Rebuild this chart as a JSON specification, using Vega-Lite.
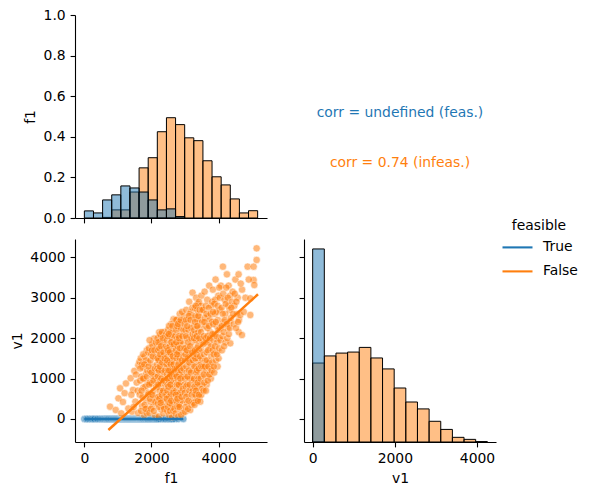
{
  "$schema": "https://vega.github.io/schema/vega-lite/v6.json",
  "padding": {"left": 10, "top": 8, "right": 5, "bottom": 5},
  "config": {
    "font": "DejaVu Sans",
    "view": {"stroke": null},
    "axis": {"grid": false, "domainColor": "black", "domainWidth": 1.1, "tickColor": "black", "tickWidth": 1.1, "tickSize": 4.9, "labelPadding": 4.9, "labelFontSize": 13.9, "labelColor": "black", "titleFontSize": 13.9, "titleFontWeight": "normal", "titleColor": "black", "titlePadding": 5.6, "labelFlush": false, "labelOverlap": false},
    "legend": {"titleFontSize": 13.9, "titleFontWeight": "normal", "titleColor": "black", "labelFontSize": 13.9, "labelColor": "black"}
  },
  "datasets": {
    "hist_f1": [
      {"bin_start": 543.6, "bin_end": 815.4, "feasible": "False", "height": 0.003},
      {"bin_start": 815.4, "bin_end": 1087.2, "feasible": "False", "height": 0.04},
      {"bin_start": 1087.2, "bin_end": 1359, "feasible": "False", "height": 0.04},
      {"bin_start": 1359, "bin_end": 1630.8, "feasible": "False", "height": 0.128},
      {"bin_start": 1630.8, "bin_end": 1902.6, "feasible": "False", "height": 0.247},
      {"bin_start": 1902.6, "bin_end": 2174.4, "feasible": "False", "height": 0.297},
      {"bin_start": 2174.4, "bin_end": 2446.2, "feasible": "False", "height": 0.425},
      {"bin_start": 2446.2, "bin_end": 2718, "feasible": "False", "height": 0.494},
      {"bin_start": 2718, "bin_end": 2989.8, "feasible": "False", "height": 0.46},
      {"bin_start": 2989.8, "bin_end": 3261.6, "feasible": "False", "height": 0.395},
      {"bin_start": 3261.6, "bin_end": 3533.4, "feasible": "False", "height": 0.381},
      {"bin_start": 3533.4, "bin_end": 3805.2, "feasible": "False", "height": 0.282},
      {"bin_start": 3805.2, "bin_end": 4077, "feasible": "False", "height": 0.203},
      {"bin_start": 4077, "bin_end": 4348.8, "feasible": "False", "height": 0.163},
      {"bin_start": 4348.8, "bin_end": 4620.6, "feasible": "False", "height": 0.094},
      {"bin_start": 4620.6, "bin_end": 4892.4, "feasible": "False", "height": 0.025},
      {"bin_start": 4892.4, "bin_end": 5164.2, "feasible": "False", "height": 0.036},
      {"bin_start": 0, "bin_end": 271.8, "feasible": "True", "height": 0.035},
      {"bin_start": 271.8, "bin_end": 543.6, "feasible": "True", "height": 0.025},
      {"bin_start": 543.6, "bin_end": 815.4, "feasible": "True", "height": 0.089},
      {"bin_start": 815.4, "bin_end": 1087.2, "feasible": "True", "height": 0.114},
      {"bin_start": 1087.2, "bin_end": 1359, "feasible": "True", "height": 0.158},
      {"bin_start": 1359, "bin_end": 1630.8, "feasible": "True", "height": 0.148},
      {"bin_start": 1630.8, "bin_end": 1902.6, "feasible": "True", "height": 0.128},
      {"bin_start": 1902.6, "bin_end": 2174.4, "feasible": "True", "height": 0.089},
      {"bin_start": 2174.4, "bin_end": 2446.2, "feasible": "True", "height": 0.04},
      {"bin_start": 2446.2, "bin_end": 2718, "feasible": "True", "height": 0.045},
      {"bin_start": 2718, "bin_end": 2989.8, "feasible": "True", "height": 0.007}
    ],
    "hist_v1": [
      {"bin_start": 0, "bin_end": 283.4, "feasible": "False", "height": 0.389},
      {"bin_start": 283.4, "bin_end": 566.8, "feasible": "False", "height": 0.424},
      {"bin_start": 566.8, "bin_end": 850.2, "feasible": "False", "height": 0.438},
      {"bin_start": 850.2, "bin_end": 1133.6, "feasible": "False", "height": 0.443},
      {"bin_start": 1133.6, "bin_end": 1417, "feasible": "False", "height": 0.466},
      {"bin_start": 1417, "bin_end": 1700.4, "feasible": "False", "height": 0.414},
      {"bin_start": 1700.4, "bin_end": 1983.8, "feasible": "False", "height": 0.36},
      {"bin_start": 1983.8, "bin_end": 2267.2, "feasible": "False", "height": 0.266},
      {"bin_start": 2267.2, "bin_end": 2550.6, "feasible": "False", "height": 0.197},
      {"bin_start": 2550.6, "bin_end": 2834, "feasible": "False", "height": 0.163},
      {"bin_start": 2834, "bin_end": 3117.4, "feasible": "False", "height": 0.102},
      {"bin_start": 3117.4, "bin_end": 3400.8, "feasible": "False", "height": 0.062},
      {"bin_start": 3400.8, "bin_end": 3684.2, "feasible": "False", "height": 0.023},
      {"bin_start": 3684.2, "bin_end": 3967.6, "feasible": "False", "height": 0.013},
      {"bin_start": 3967.6, "bin_end": 4251, "feasible": "False", "height": 0.002},
      {"bin_start": 0, "bin_end": 283.4, "feasible": "True", "height": 0.951}
    ],
    "annot": [
      {"label": "corr = undefined (feas.)", "feasible": "True", "x": 0.5, "y": 0.5},
      {"label": "corr = 0.74 (infeas.)", "feasible": "False", "x": 0.5, "y": 0.25}
    ],
    "reg": [
      {"f1": 0, "v1": 0, "feasible": "True"},
      {"f1": 2950, "v1": 0, "feasible": "True"},
      {"f1": 716, "v1": -272, "feasible": "False"},
      {"f1": 5174, "v1": 3085, "feasible": "False"}
    ],
    "points": [
      {"f1":0,"v1":0,"feasible":"True"},{"f1":60,"v1":0,"feasible":"True"},{"f1":100,"v1":0,"feasible":"True"},{"f1":150,"v1":0,"feasible":"True"},{"f1":200,"v1":0,"feasible":"True"},{"f1":240,"v1":0,"feasible":"True"},{"f1":280,"v1":0,"feasible":"True"},{"f1":310,"v1":0,"feasible":"True"},{"f1":370,"v1":0,"feasible":"True"},{"f1":400,"v1":0,"feasible":"True"},{"f1":450,"v1":0,"feasible":"True"},{"f1":500,"v1":0,"feasible":"True"},{"f1":530,"v1":0,"feasible":"True"},{"f1":560,"v1":0,"feasible":"True"},{"f1":590,"v1":0,"feasible":"True"},{"f1":610,"v1":0,"feasible":"True"},{"f1":640,"v1":0,"feasible":"True"},{"f1":660,"v1":0,"feasible":"True"},{"f1":680,"v1":0,"feasible":"True"},{"f1":700,"v1":0,"feasible":"True"},{"f1":720,"v1":0,"feasible":"True"},{"f1":750,"v1":0,"feasible":"True"},{"f1":780,"v1":0,"feasible":"True"},{"f1":800,"v1":0,"feasible":"True"},{"f1":830,"v1":0,"feasible":"True"},{"f1":850,"v1":0,"feasible":"True"},{"f1":870,"v1":0,"feasible":"True"},{"f1":890,"v1":0,"feasible":"True"},{"f1":910,"v1":0,"feasible":"True"},{"f1":930,"v1":0,"feasible":"True"},{"f1":950,"v1":0,"feasible":"True"},{"f1":970,"v1":0,"feasible":"True"},{"f1":990,"v1":0,"feasible":"True"},{"f1":1010,"v1":0,"feasible":"True"},{"f1":1030,"v1":0,"feasible":"True"},{"f1":1050,"v1":0,"feasible":"True"},{"f1":1070,"v1":0,"feasible":"True"},{"f1":1080,"v1":0,"feasible":"True"},{"f1":1100,"v1":0,"feasible":"True"},{"f1":1110,"v1":0,"feasible":"True"},{"f1":1125,"v1":0,"feasible":"True"},{"f1":1140,"v1":0,"feasible":"True"},{"f1":1150,"v1":0,"feasible":"True"},{"f1":1165,"v1":0,"feasible":"True"},{"f1":1175,"v1":0,"feasible":"True"},{"f1":1190,"v1":0,"feasible":"True"},{"f1":1200,"v1":0,"feasible":"True"},{"f1":1215,"v1":0,"feasible":"True"},{"f1":1225,"v1":0,"feasible":"True"},{"f1":1240,"v1":0,"feasible":"True"},{"f1":1250,"v1":0,"feasible":"True"},{"f1":1265,"v1":0,"feasible":"True"},{"f1":1280,"v1":0,"feasible":"True"},{"f1":1295,"v1":0,"feasible":"True"},{"f1":1310,"v1":0,"feasible":"True"},{"f1":1325,"v1":0,"feasible":"True"},{"f1":1340,"v1":0,"feasible":"True"},{"f1":1355,"v1":0,"feasible":"True"},{"f1":1370,"v1":0,"feasible":"True"},{"f1":1385,"v1":0,"feasible":"True"},{"f1":1400,"v1":0,"feasible":"True"},{"f1":1415,"v1":0,"feasible":"True"},{"f1":1430,"v1":0,"feasible":"True"},{"f1":1445,"v1":0,"feasible":"True"},{"f1":1460,"v1":0,"feasible":"True"},{"f1":1475,"v1":0,"feasible":"True"},{"f1":1490,"v1":0,"feasible":"True"},{"f1":1505,"v1":0,"feasible":"True"},{"f1":1520,"v1":0,"feasible":"True"},{"f1":1535,"v1":0,"feasible":"True"},{"f1":1550,"v1":0,"feasible":"True"},{"f1":1565,"v1":0,"feasible":"True"},{"f1":1580,"v1":0,"feasible":"True"},{"f1":1595,"v1":0,"feasible":"True"},{"f1":1610,"v1":0,"feasible":"True"},{"f1":1625,"v1":0,"feasible":"True"},{"f1":1640,"v1":0,"feasible":"True"},{"f1":1650,"v1":0,"feasible":"True"},{"f1":1665,"v1":0,"feasible":"True"},{"f1":1680,"v1":0,"feasible":"True"},{"f1":1695,"v1":0,"feasible":"True"},{"f1":1710,"v1":0,"feasible":"True"},{"f1":1725,"v1":0,"feasible":"True"},{"f1":1740,"v1":0,"feasible":"True"},{"f1":1760,"v1":0,"feasible":"True"},{"f1":1780,"v1":0,"feasible":"True"},{"f1":1800,"v1":0,"feasible":"True"},{"f1":1820,"v1":0,"feasible":"True"},{"f1":1840,"v1":0,"feasible":"True"},{"f1":1860,"v1":0,"feasible":"True"},{"f1":1875,"v1":0,"feasible":"True"},{"f1":1890,"v1":0,"feasible":"True"},{"f1":1920,"v1":0,"feasible":"True"},{"f1":1945,"v1":0,"feasible":"True"},{"f1":1970,"v1":0,"feasible":"True"},{"f1":1995,"v1":0,"feasible":"True"},{"f1":2020,"v1":0,"feasible":"True"},{"f1":2045,"v1":0,"feasible":"True"},{"f1":2070,"v1":0,"feasible":"True"},{"f1":2095,"v1":0,"feasible":"True"},{"f1":2120,"v1":0,"feasible":"True"},{"f1":2140,"v1":0,"feasible":"True"},{"f1":2160,"v1":0,"feasible":"True"},{"f1":2190,"v1":0,"feasible":"True"},{"f1":2220,"v1":0,"feasible":"True"},{"f1":2260,"v1":0,"feasible":"True"},{"f1":2330,"v1":0,"feasible":"True"},{"f1":2380,"v1":0,"feasible":"True"},{"f1":2420,"v1":0,"feasible":"True"},{"f1":2480,"v1":0,"feasible":"True"},{"f1":2520,"v1":0,"feasible":"True"},{"f1":2560,"v1":0,"feasible":"True"},{"f1":2600,"v1":0,"feasible":"True"},{"f1":2640,"v1":0,"feasible":"True"},{"f1":2700,"v1":0,"feasible":"True"},{"f1":2800,"v1":0,"feasible":"True"},{"f1":2950,"v1":0,"feasible":"True"},
      {"f1":766,"v1":305,"feasible":"False"},{"f1":935,"v1":223,"feasible":"False"},{"f1":1015,"v1":511,"feasible":"False"},{"f1":1065,"v1":759,"feasible":"False"},{"f1":1100,"v1":140,"feasible":"False"},
      {"f1":1150,"v1":420,"feasible":"False"},{"f1":1240,"v1":880,"feasible":"False"},{"f1":1310,"v1":260,"feasible":"False"},{"f1":1200,"v1":640,"feasible":"False"},
      {"f1":1380,"v1":1010,"feasible":"False"},{"f1":1420,"v1":180,"feasible":"False"},{"f1":1450,"v1":720,"feasible":"False"},{"f1":1490,"v1":1190,"feasible":"False"},{"f1":1520,"v1":430,"feasible":"False"},{"f1":1560,"v1":900,"feasible":"False"},{"f1":1600,"v1":150,"feasible":"False"},{"f1":1610,"v1":1330,"feasible":"False"},
      {"f1":1400,"v1":600,"feasible":"False"},{"f1":1470,"v1":300,"feasible":"False"},{"f1":1540,"v1":1100,"feasible":"False"},{"f1":1590,"v1":700,"feasible":"False"},
      {"f1":1642,"v1":1418,"feasible":"False"},{"f1":1682,"v1":1501,"feasible":"False"},{"f1":1650,"v1":600,"feasible":"False"},{"f1":1700,"v1":1050,"feasible":"False"},{"f1":1720,"v1":320,"feasible":"False"},{"f1":1740,"v1":1280,"feasible":"False"},{"f1":1760,"v1":780,"feasible":"False"},{"f1":1780,"v1":90,"feasible":"False"},{"f1":1800,"v1":1550,"feasible":"False"},{"f1":1820,"v1":480,"feasible":"False"},{"f1":1840,"v1":1120,"feasible":"False"},{"f1":1860,"v1":1700,"feasible":"False"},{"f1":1870,"v1":260,"feasible":"False"},{"f1":1890,"v1":900,"feasible":"False"},{"f1":1900,"v1":1400,"feasible":"False"},
      {"f1":1660,"v1":950,"feasible":"False"},{"f1":1690,"v1":200,"feasible":"False"},{"f1":1715,"v1":1350,"feasible":"False"},{"f1":1735,"v1":550,"feasible":"False"},{"f1":1755,"v1":1600,"feasible":"False"},{"f1":1775,"v1":1000,"feasible":"False"},{"f1":1795,"v1":350,"feasible":"False"},{"f1":1815,"v1":800,"feasible":"False"},{"f1":1835,"v1":1450,"feasible":"False"},{"f1":1855,"v1":150,"feasible":"False"},{"f1":1875,"v1":1200,"feasible":"False"},{"f1":1895,"v1":650,"feasible":"False"},
      {"f1":1665,"v1":1250,"feasible":"False"},{"f1":1705,"v1":700,"feasible":"False"},{"f1":1745,"v1":1000,"feasible":"False"},{"f1":1785,"v1":1350,"feasible":"False"},{"f1":1825,"v1":250,"feasible":"False"},{"f1":1865,"v1":1050,"feasible":"False"},{"f1":1905,"v1":1650,"feasible":"False"},{"f1":1950,"v1":900,"feasible":"False"},{"f1":1995,"v1":600,"feasible":"False"},{"f1":2040,"v1":1050,"feasible":"False"},{"f1":2085,"v1":450,"feasible":"False"},{"f1":2130,"v1":1150,"feasible":"False"},{"f1":2160,"v1":1650,"feasible":"False"},{"f1":2045,"v1":1800,"feasible":"False"},
      {"f1":1910,"v1":610,"feasible":"False"},{"f1":1925,"v1":1750,"feasible":"False"},{"f1":1940,"v1":150,"feasible":"False"},{"f1":1960,"v1":1180,"feasible":"False"},{"f1":1975,"v1":420,"feasible":"False"},{"f1":1990,"v1":1600,"feasible":"False"},{"f1":2005,"v1":880,"feasible":"False"},{"f1":2020,"v1":1850,"feasible":"False"},{"f1":2035,"v1":300,"feasible":"False"},{"f1":2050,"v1":1300,"feasible":"False"},{"f1":2065,"v1":700,"feasible":"False"},{"f1":2080,"v1":1990,"feasible":"False"},{"f1":2095,"v1":1050,"feasible":"False"},{"f1":2110,"v1":80,"feasible":"False"},{"f1":2125,"v1":1520,"feasible":"False"},{"f1":2140,"v1":520,"feasible":"False"},{"f1":2155,"v1":1780,"feasible":"False"},{"f1":2170,"v1":950,"feasible":"False"},
      {"f1":1915,"v1":1300,"feasible":"False"},{"f1":1930,"v1":850,"feasible":"False"},{"f1":1945,"v1":1950,"feasible":"False"},{"f1":1955,"v1":500,"feasible":"False"},{"f1":1970,"v1":1450,"feasible":"False"},{"f1":1985,"v1":250,"feasible":"False"},{"f1":2000,"v1":1150,"feasible":"False"},{"f1":2012,"v1":1700,"feasible":"False"},{"f1":2028,"v1":600,"feasible":"False"},{"f1":2042,"v1":1550,"feasible":"False"},{"f1":2058,"v1":950,"feasible":"False"},{"f1":2072,"v1":200,"feasible":"False"},{"f1":2088,"v1":1700,"feasible":"False"},{"f1":2102,"v1":1250,"feasible":"False"},{"f1":2118,"v1":420,"feasible":"False"},{"f1":2132,"v1":1900,"feasible":"False"},{"f1":2148,"v1":800,"feasible":"False"},{"f1":2165,"v1":1350,"feasible":"False"},
      {"f1":2229,"v1":2144,"feasible":"False"},{"f1":2180,"v1":1250,"feasible":"False"},{"f1":2190,"v1":380,"feasible":"False"},{"f1":2200,"v1":1700,"feasible":"False"},{"f1":2210,"v1":800,"feasible":"False"},{"f1":2220,"v1":60,"feasible":"False"},{"f1":2235,"v1":1450,"feasible":"False"},{"f1":2245,"v1":1020,"feasible":"False"},{"f1":2255,"v1":1900,"feasible":"False"},{"f1":2265,"v1":560,"feasible":"False"},{"f1":2275,"v1":1280,"feasible":"False"},{"f1":2285,"v1":240,"feasible":"False"},{"f1":2295,"v1":2050,"feasible":"False"},{"f1":2305,"v1":1600,"feasible":"False"},{"f1":2315,"v1":880,"feasible":"False"},{"f1":2325,"v1":1180,"feasible":"False"},{"f1":2335,"v1":430,"feasible":"False"},{"f1":2345,"v1":1830,"feasible":"False"},{"f1":2355,"v1":140,"feasible":"False"},{"f1":2365,"v1":1400,"feasible":"False"},{"f1":2375,"v1":700,"feasible":"False"},{"f1":2385,"v1":2150,"feasible":"False"},{"f1":2395,"v1":1000,"feasible":"False"},{"f1":2405,"v1":1650,"feasible":"False"},{"f1":2420,"v1":330,"feasible":"False"},{"f1":2435,"v1":1300,"feasible":"False"},
      {"f1":2182,"v1":2000,"feasible":"False"},{"f1":2193,"v1":1050,"feasible":"False"},{"f1":2205,"v1":550,"feasible":"False"},{"f1":2215,"v1":1450,"feasible":"False"},{"f1":2228,"v1":300,"feasible":"False"},{"f1":2240,"v1":1750,"feasible":"False"},{"f1":2250,"v1":700,"feasible":"False"},{"f1":2262,"v1":2100,"feasible":"False"},{"f1":2270,"v1":950,"feasible":"False"},{"f1":2282,"v1":1500,"feasible":"False"},{"f1":2292,"v1":450,"feasible":"False"},{"f1":2302,"v1":1200,"feasible":"False"},{"f1":2312,"v1":2150,"feasible":"False"},{"f1":2322,"v1":650,"feasible":"False"},{"f1":2332,"v1":1550,"feasible":"False"},{"f1":2342,"v1":950,"feasible":"False"},{"f1":2352,"v1":1950,"feasible":"False"},{"f1":2362,"v1":300,"feasible":"False"},{"f1":2372,"v1":1150,"feasible":"False"},{"f1":2382,"v1":1750,"feasible":"False"},{"f1":2392,"v1":500,"feasible":"False"},{"f1":2402,"v1":2050,"feasible":"False"},{"f1":2412,"v1":850,"feasible":"False"},{"f1":2425,"v1":1500,"feasible":"False"},{"f1":2440,"v1":2100,"feasible":"False"},
      {"f1":2187,"v1":1500,"feasible":"False"},{"f1":2198,"v1":850,"feasible":"False"},{"f1":2208,"v1":1900,"feasible":"False"},{"f1":2222,"v1":1200,"feasible":"False"},{"f1":2238,"v1":500,"feasible":"False"},{"f1":2248,"v1":1300,"feasible":"False"},{"f1":2260,"v1":1600,"feasible":"False"},{"f1":2272,"v1":400,"feasible":"False"},{"f1":2288,"v1":1800,"feasible":"False"},{"f1":2298,"v1":1000,"feasible":"False"},{"f1":2310,"v1":600,"feasible":"False"},{"f1":2320,"v1":1400,"feasible":"False"},{"f1":2338,"v1":2000,"feasible":"False"},{"f1":2348,"v1":700,"feasible":"False"},{"f1":2358,"v1":1650,"feasible":"False"},{"f1":2368,"v1":950,"feasible":"False"},{"f1":2378,"v1":250,"feasible":"False"},{"f1":2390,"v1":1500,"feasible":"False"},{"f1":2400,"v1":1200,"feasible":"False"},{"f1":2415,"v1":600,"feasible":"False"},{"f1":2430,"v1":1800,"feasible":"False"},{"f1":2445,"v1":900,"feasible":"False"},
      {"f1":2657,"v1":2466,"feasible":"False"},{"f1":2450,"v1":600,"feasible":"False"},{"f1":2455,"v1":1950,"feasible":"False"},{"f1":2462,"v1":1100,"feasible":"False"},{"f1":2470,"v1":200,"feasible":"False"},{"f1":2478,"v1":1550,"feasible":"False"},{"f1":2486,"v1":850,"feasible":"False"},{"f1":2494,"v1":2200,"feasible":"False"},{"f1":2502,"v1":420,"feasible":"False"},{"f1":2510,"v1":1320,"feasible":"False"},{"f1":2518,"v1":1780,"feasible":"False"},{"f1":2526,"v1":100,"feasible":"False"},{"f1":2534,"v1":1020,"feasible":"False"},{"f1":2542,"v1":2050,"feasible":"False"},{"f1":2550,"v1":640,"feasible":"False"},{"f1":2558,"v1":1450,"feasible":"False"},{"f1":2566,"v1":280,"feasible":"False"},{"f1":2574,"v1":1900,"feasible":"False"},{"f1":2582,"v1":1180,"feasible":"False"},{"f1":2590,"v1":2350,"feasible":"False"},{"f1":2598,"v1":760,"feasible":"False"},{"f1":2606,"v1":1620,"feasible":"False"},{"f1":2614,"v1":50,"feasible":"False"},{"f1":2622,"v1":1300,"feasible":"False"},{"f1":2630,"v1":2150,"feasible":"False"},{"f1":2638,"v1":480,"feasible":"False"},{"f1":2646,"v1":1000,"feasible":"False"},{"f1":2654,"v1":1800,"feasible":"False"},{"f1":2666,"v1":350,"feasible":"False"},{"f1":2680,"v1":1500,"feasible":"False"},{"f1":2700,"v1":2300,"feasible":"False"},{"f1":2710,"v1":900,"feasible":"False"},
      {"f1":2452,"v1":1350,"feasible":"False"},{"f1":2466,"v1":1750,"feasible":"False"},{"f1":2474,"v1":700,"feasible":"False"},{"f1":2482,"v1":2050,"feasible":"False"},{"f1":2490,"v1":1200,"feasible":"False"},{"f1":2498,"v1":300,"feasible":"False"},{"f1":2506,"v1":1650,"feasible":"False"},{"f1":2514,"v1":950,"feasible":"False"},{"f1":2522,"v1":2300,"feasible":"False"},{"f1":2530,"v1":550,"feasible":"False"},{"f1":2538,"v1":1400,"feasible":"False"},{"f1":2546,"v1":1800,"feasible":"False"},{"f1":2554,"v1":200,"feasible":"False"},{"f1":2562,"v1":1100,"feasible":"False"},{"f1":2570,"v1":2150,"feasible":"False"},{"f1":2578,"v1":600,"feasible":"False"},{"f1":2586,"v1":1600,"feasible":"False"},{"f1":2594,"v1":950,"feasible":"False"},{"f1":2602,"v1":2000,"feasible":"False"},{"f1":2610,"v1":350,"feasible":"False"},{"f1":2618,"v1":1450,"feasible":"False"},{"f1":2626,"v1":750,"feasible":"False"},{"f1":2634,"v1":1850,"feasible":"False"},{"f1":2642,"v1":1250,"feasible":"False"},{"f1":2650,"v1":200,"feasible":"False"},{"f1":2662,"v1":2050,"feasible":"False"},{"f1":2675,"v1":1100,"feasible":"False"},{"f1":2690,"v1":650,"feasible":"False"},{"f1":2705,"v1":1700,"feasible":"False"},{"f1":2715,"v1":2450,"feasible":"False"},
      {"f1":2458,"v1":500,"feasible":"False"},{"f1":2468,"v1":1450,"feasible":"False"},{"f1":2480,"v1":1000,"feasible":"False"},{"f1":2492,"v1":1700,"feasible":"False"},{"f1":2504,"v1":800,"feasible":"False"},{"f1":2516,"v1":2100,"feasible":"False"},{"f1":2528,"v1":1200,"feasible":"False"},{"f1":2540,"v1":400,"feasible":"False"},{"f1":2552,"v1":1650,"feasible":"False"},{"f1":2564,"v1":850,"feasible":"False"},{"f1":2576,"v1":1350,"feasible":"False"},{"f1":2588,"v1":450,"feasible":"False"},{"f1":2600,"v1":1900,"feasible":"False"},{"f1":2612,"v1":1050,"feasible":"False"},{"f1":2624,"v1":2300,"feasible":"False"},{"f1":2636,"v1":1550,"feasible":"False"},{"f1":2648,"v1":650,"feasible":"False"},{"f1":2660,"v1":1350,"feasible":"False"},{"f1":2672,"v1":1850,"feasible":"False"},{"f1":2684,"v1":250,"feasible":"False"},{"f1":2696,"v1":1250,"feasible":"False"},{"f1":2708,"v1":2050,"feasible":"False"},
      {"f1":2722,"v1":140,"feasible":"False"},{"f1":2730,"v1":1700,"feasible":"False"},{"f1":2738,"v1":700,"feasible":"False"},{"f1":2746,"v1":2450,"feasible":"False"},{"f1":2754,"v1":1250,"feasible":"False"},{"f1":2762,"v1":380,"feasible":"False"},{"f1":2770,"v1":2000,"feasible":"False"},{"f1":2778,"v1":980,"feasible":"False"},{"f1":2786,"v1":1550,"feasible":"False"},{"f1":2794,"v1":60,"feasible":"False"},{"f1":2802,"v1":2250,"feasible":"False"},{"f1":2810,"v1":560,"feasible":"False"},{"f1":2818,"v1":1400,"feasible":"False"},{"f1":2826,"v1":1850,"feasible":"False"},{"f1":2834,"v1":820,"feasible":"False"},{"f1":2842,"v1":2600,"feasible":"False"},{"f1":2850,"v1":250,"feasible":"False"},{"f1":2858,"v1":1150,"feasible":"False"},{"f1":2866,"v1":2100,"feasible":"False"},{"f1":2874,"v1":1650,"feasible":"False"},{"f1":2882,"v1":460,"feasible":"False"},{"f1":2890,"v1":1300,"feasible":"False"},{"f1":2898,"v1":2400,"feasible":"False"},{"f1":2906,"v1":700,"feasible":"False"},{"f1":2920,"v1":1900,"feasible":"False"},{"f1":2935,"v1":1050,"feasible":"False"},{"f1":2950,"v1":160,"feasible":"False"},{"f1":2970,"v1":2550,"feasible":"False"},
      {"f1":2726,"v1":1100,"feasible":"False"},{"f1":2734,"v1":2200,"feasible":"False"},{"f1":2742,"v1":450,"feasible":"False"},{"f1":2750,"v1":1500,"feasible":"False"},{"f1":2758,"v1":850,"feasible":"False"},{"f1":2766,"v1":2300,"feasible":"False"},{"f1":2774,"v1":300,"feasible":"False"},{"f1":2782,"v1":1800,"feasible":"False"},{"f1":2790,"v1":1200,"feasible":"False"},{"f1":2798,"v1":600,"feasible":"False"},{"f1":2806,"v1":1650,"feasible":"False"},{"f1":2814,"v1":2050,"feasible":"False"},{"f1":2822,"v1":350,"feasible":"False"},{"f1":2830,"v1":1100,"feasible":"False"},{"f1":2838,"v1":2400,"feasible":"False"},{"f1":2846,"v1":1500,"feasible":"False"},{"f1":2854,"v1":650,"feasible":"False"},{"f1":2862,"v1":1900,"feasible":"False"},{"f1":2870,"v1":900,"feasible":"False"},{"f1":2878,"v1":2250,"feasible":"False"},{"f1":2886,"v1":100,"feasible":"False"},{"f1":2894,"v1":1750,"feasible":"False"},{"f1":2902,"v1":1050,"feasible":"False"},{"f1":2912,"v1":2650,"feasible":"False"},{"f1":2926,"v1":450,"feasible":"False"},{"f1":2942,"v1":1550,"feasible":"False"},{"f1":2958,"v1":2200,"feasible":"False"},{"f1":2980,"v1":850,"feasible":"False"},
      {"f1":2728,"v1":600,"feasible":"False"},{"f1":2740,"v1":1900,"feasible":"False"},{"f1":2752,"v1":1050,"feasible":"False"},{"f1":2764,"v1":1600,"feasible":"False"},{"f1":2776,"v1":500,"feasible":"False"},{"f1":2788,"v1":2350,"feasible":"False"},{"f1":2800,"v1":1350,"feasible":"False"},{"f1":2812,"v1":850,"feasible":"False"},{"f1":2824,"v1":2000,"feasible":"False"},{"f1":2836,"v1":300,"feasible":"False"},{"f1":2848,"v1":1750,"feasible":"False"},{"f1":2860,"v1":1000,"feasible":"False"},{"f1":2872,"v1":2450,"feasible":"False"},{"f1":2884,"v1":1200,"feasible":"False"},{"f1":2896,"v1":550,"feasible":"False"},{"f1":2910,"v1":1450,"feasible":"False"},{"f1":2924,"v1":2050,"feasible":"False"},{"f1":2938,"v1":750,"feasible":"False"},{"f1":2952,"v1":1250,"feasible":"False"},{"f1":2966,"v1":1750,"feasible":"False"},{"f1":2985,"v1":2350,"feasible":"False"},
      {"f1":3005,"v1":181,"feasible":"False"},{"f1":3000,"v1":1450,"feasible":"False"},{"f1":3012,"v1":2200,"feasible":"False"},{"f1":3025,"v1":800,"feasible":"False"},{"f1":3038,"v1":2700,"feasible":"False"},{"f1":3050,"v1":1150,"feasible":"False"},{"f1":3062,"v1":400,"feasible":"False"},{"f1":3075,"v1":1800,"feasible":"False"},{"f1":3088,"v1":2450,"feasible":"False"},{"f1":3100,"v1":600,"feasible":"False"},{"f1":3112,"v1":1600,"feasible":"False"},{"f1":3125,"v1":2900,"feasible":"False"},{"f1":3138,"v1":1000,"feasible":"False"},{"f1":3150,"v1":2050,"feasible":"False"},{"f1":3154,"v1":223,"feasible":"False"},{"f1":3162,"v1":1350,"feasible":"False"},{"f1":3175,"v1":2650,"feasible":"False"},{"f1":3188,"v1":750,"feasible":"False"},{"f1":3200,"v1":1900,"feasible":"False"},{"f1":3212,"v1":450,"feasible":"False"},{"f1":3224,"v1":3126,"feasible":"False"},{"f1":3230,"v1":1200,"feasible":"False"},{"f1":3245,"v1":2300,"feasible":"False"},{"f1":3258,"v1":950,"feasible":"False"},
      {"f1":2995,"v1":650,"feasible":"False"},{"f1":3008,"v1":1750,"feasible":"False"},{"f1":3018,"v1":300,"feasible":"False"},{"f1":3030,"v1":2450,"feasible":"False"},{"f1":3042,"v1":1300,"feasible":"False"},{"f1":3055,"v1":2000,"feasible":"False"},{"f1":3068,"v1":850,"feasible":"False"},{"f1":3080,"v1":1500,"feasible":"False"},{"f1":3092,"v1":250,"feasible":"False"},{"f1":3105,"v1":2200,"feasible":"False"},{"f1":3118,"v1":1200,"feasible":"False"},{"f1":3130,"v1":700,"feasible":"False"},{"f1":3142,"v1":2600,"feasible":"False"},{"f1":3158,"v1":1650,"feasible":"False"},{"f1":3168,"v1":1000,"feasible":"False"},{"f1":3180,"v1":2250,"feasible":"False"},{"f1":3192,"v1":350,"feasible":"False"},{"f1":3205,"v1":1450,"feasible":"False"},{"f1":3218,"v1":2750,"feasible":"False"},{"f1":3235,"v1":700,"feasible":"False"},{"f1":3250,"v1":1700,"feasible":"False"},{"f1":3260,"v1":2500,"feasible":"False"},
      {"f1":3002,"v1":1000,"feasible":"False"},{"f1":3015,"v1":1600,"feasible":"False"},{"f1":3028,"v1":2050,"feasible":"False"},{"f1":3040,"v1":550,"feasible":"False"},{"f1":3052,"v1":1700,"feasible":"False"},{"f1":3065,"v1":2300,"feasible":"False"},{"f1":3078,"v1":1050,"feasible":"False"},{"f1":3090,"v1":1900,"feasible":"False"},{"f1":3102,"v1":450,"feasible":"False"},{"f1":3115,"v1":2550,"feasible":"False"},{"f1":3128,"v1":1400,"feasible":"False"},{"f1":3140,"v1":850,"feasible":"False"},{"f1":3152,"v1":1800,"feasible":"False"},{"f1":3165,"v1":2450,"feasible":"False"},{"f1":3178,"v1":1150,"feasible":"False"},{"f1":3190,"v1":2000,"feasible":"False"},{"f1":3202,"v1":600,"feasible":"False"},{"f1":3215,"v1":1650,"feasible":"False"},{"f1":3228,"v1":2100,"feasible":"False"},{"f1":3240,"v1":1450,"feasible":"False"},{"f1":3255,"v1":400,"feasible":"False"},
      {"f1":3270,"v1":1550,"feasible":"False"},{"f1":3280,"v1":600,"feasible":"False"},{"f1":3290,"v1":2750,"feasible":"False"},{"f1":3300,"v1":2100,"feasible":"False"},{"f1":3310,"v1":900,"feasible":"False"},{"f1":3320,"v1":1300,"feasible":"False"},{"f1":3330,"v1":3000,"feasible":"False"},{"f1":3340,"v1":450,"feasible":"False"},{"f1":3350,"v1":1750,"feasible":"False"},{"f1":3360,"v1":2450,"feasible":"False"},{"f1":3370,"v1":1050,"feasible":"False"},{"f1":3380,"v1":2850,"feasible":"False"},{"f1":3390,"v1":700,"feasible":"False"},{"f1":3400,"v1":1950,"feasible":"False"},{"f1":3410,"v1":1400,"feasible":"False"},{"f1":3420,"v1":2600,"feasible":"False"},{"f1":3430,"v1":550,"feasible":"False"},{"f1":3440,"v1":1150,"feasible":"False"},{"f1":3453,"v1":429,"feasible":"False"},{"f1":3462,"v1":2250,"feasible":"False"},{"f1":3475,"v1":1700,"feasible":"False"},{"f1":3488,"v1":3050,"feasible":"False"},{"f1":3500,"v1":850,"feasible":"False"},{"f1":3515,"v1":2000,"feasible":"False"},{"f1":3528,"v1":1250,"feasible":"False"},
      {"f1":3266,"v1":1000,"feasible":"False"},{"f1":3275,"v1":2200,"feasible":"False"},{"f1":3285,"v1":350,"feasible":"False"},{"f1":3295,"v1":1700,"feasible":"False"},{"f1":3305,"v1":2550,"feasible":"False"},{"f1":3315,"v1":600,"feasible":"False"},{"f1":3325,"v1":1950,"feasible":"False"},{"f1":3335,"v1":1150,"feasible":"False"},{"f1":3345,"v1":2300,"feasible":"False"},{"f1":3355,"v1":800,"feasible":"False"},{"f1":3365,"v1":2700,"feasible":"False"},{"f1":3375,"v1":1500,"feasible":"False"},{"f1":3385,"v1":450,"feasible":"False"},{"f1":3395,"v1":2150,"feasible":"False"},{"f1":3405,"v1":1000,"feasible":"False"},{"f1":3415,"v1":2900,"feasible":"False"},{"f1":3425,"v1":1700,"feasible":"False"},{"f1":3435,"v1":850,"feasible":"False"},{"f1":3448,"v1":2450,"feasible":"False"},{"f1":3458,"v1":1350,"feasible":"False"},{"f1":3470,"v1":2800,"feasible":"False"},{"f1":3482,"v1":600,"feasible":"False"},{"f1":3495,"v1":1500,"feasible":"False"},{"f1":3510,"v1":2400,"feasible":"False"},{"f1":3525,"v1":1900,"feasible":"False"},
      {"f1":3268,"v1":2000,"feasible":"False"},{"f1":3278,"v1":1300,"feasible":"False"},{"f1":3288,"v1":800,"feasible":"False"},{"f1":3298,"v1":2400,"feasible":"False"},{"f1":3308,"v1":1500,"feasible":"False"},{"f1":3318,"v1":2800,"feasible":"False"},{"f1":3328,"v1":700,"feasible":"False"},{"f1":3338,"v1":1600,"feasible":"False"},{"f1":3348,"v1":2050,"feasible":"False"},{"f1":3358,"v1":1200,"feasible":"False"},{"f1":3368,"v1":2300,"feasible":"False"},{"f1":3378,"v1":900,"feasible":"False"},{"f1":3388,"v1":1800,"feasible":"False"},{"f1":3398,"v1":2550,"feasible":"False"},{"f1":3408,"v1":1250,"feasible":"False"},{"f1":3418,"v1":600,"feasible":"False"},{"f1":3428,"v1":2000,"feasible":"False"},{"f1":3438,"v1":2700,"feasible":"False"},{"f1":3450,"v1":1550,"feasible":"False"},{"f1":3466,"v1":1000,"feasible":"False"},{"f1":3478,"v1":2150,"feasible":"False"},{"f1":3490,"v1":1300,"feasible":"False"},{"f1":3505,"v1":2700,"feasible":"False"},{"f1":3520,"v1":750,"feasible":"False"},
      {"f1":3540,"v1":2700,"feasible":"False"},{"f1":3555,"v1":700,"feasible":"False"},{"f1":3570,"v1":1600,"feasible":"False"},{"f1":3585,"v1":3150,"feasible":"False"},{"f1":3600,"v1":1050,"feasible":"False"},{"f1":3615,"v1":2300,"feasible":"False"},{"f1":3630,"v1":1900,"feasible":"False"},{"f1":3645,"v1":850,"feasible":"False"},{"f1":3660,"v1":2950,"feasible":"False"},{"f1":3675,"v1":1350,"feasible":"False"},{"f1":3690,"v1":2550,"feasible":"False"},{"f1":3705,"v1":1100,"feasible":"False"},{"f1":3720,"v1":3300,"feasible":"False"},{"f1":3735,"v1":1750,"feasible":"False"},{"f1":3750,"v1":2150,"feasible":"False"},{"f1":3770,"v1":1000,"feasible":"False"},{"f1":3790,"v1":2800,"feasible":"False"},
      {"f1":3545,"v1":1300,"feasible":"False"},{"f1":3560,"v1":2050,"feasible":"False"},{"f1":3575,"v1":900,"feasible":"False"},{"f1":3590,"v1":2500,"feasible":"False"},{"f1":3605,"v1":1450,"feasible":"False"},{"f1":3620,"v1":2800,"feasible":"False"},{"f1":3635,"v1":1200,"feasible":"False"},{"f1":3650,"v1":1650,"feasible":"False"},{"f1":3665,"v1":2250,"feasible":"False"},{"f1":3680,"v1":950,"feasible":"False"},{"f1":3695,"v1":1900,"feasible":"False"},{"f1":3710,"v1":2750,"feasible":"False"},{"f1":3725,"v1":1400,"feasible":"False"},{"f1":3740,"v1":2450,"feasible":"False"},{"f1":3760,"v1":1250,"feasible":"False"},{"f1":3780,"v1":1800,"feasible":"False"},{"f1":3800,"v1":2400,"feasible":"False"},
      {"f1":3548,"v1":1850,"feasible":"False"},{"f1":3563,"v1":1100,"feasible":"False"},{"f1":3578,"v1":2400,"feasible":"False"},{"f1":3593,"v1":1300,"feasible":"False"},{"f1":3608,"v1":2000,"feasible":"False"},{"f1":3623,"v1":700,"feasible":"False"},{"f1":3638,"v1":2600,"feasible":"False"},{"f1":3653,"v1":1450,"feasible":"False"},{"f1":3668,"v1":2050,"feasible":"False"},{"f1":3683,"v1":1700,"feasible":"False"},{"f1":3698,"v1":1300,"feasible":"False"},{"f1":3713,"v1":2300,"feasible":"False"},{"f1":3728,"v1":1100,"feasible":"False"},{"f1":3743,"v1":2000,"feasible":"False"},{"f1":3763,"v1":2600,"feasible":"False"},{"f1":3783,"v1":1550,"feasible":"False"},{"f1":3798,"v1":1200,"feasible":"False"},
      {"f1":3815,"v1":1400,"feasible":"False"},{"f1":3830,"v1":3200,"feasible":"False"},{"f1":3850,"v1":1950,"feasible":"False"},{"f1":3870,"v1":1150,"feasible":"False"},{"f1":3890,"v1":2600,"feasible":"False"},{"f1":3910,"v1":3450,"feasible":"False"},{"f1":3930,"v1":1650,"feasible":"False"},{"f1":3950,"v1":2300,"feasible":"False"},{"f1":3970,"v1":1300,"feasible":"False"},{"f1":3990,"v1":3050,"feasible":"False"},{"f1":4010,"v1":2000,"feasible":"False"},{"f1":4040,"v1":2700,"feasible":"False"},{"f1":4070,"v1":3299,"feasible":"False"},
      {"f1":3810,"v1":2900,"feasible":"False"},{"f1":3825,"v1":1700,"feasible":"False"},{"f1":3840,"v1":2350,"feasible":"False"},{"f1":3860,"v1":1300,"feasible":"False"},{"f1":3880,"v1":2100,"feasible":"False"},{"f1":3900,"v1":2950,"feasible":"False"},{"f1":3920,"v1":1450,"feasible":"False"},{"f1":3940,"v1":2650,"feasible":"False"},{"f1":3960,"v1":1900,"feasible":"False"},{"f1":3980,"v1":2450,"feasible":"False"},{"f1":4000,"v1":1500,"feasible":"False"},{"f1":4020,"v1":3250,"feasible":"False"},{"f1":4055,"v1":2250,"feasible":"False"},
      {"f1":3818,"v1":2100,"feasible":"False"},{"f1":3835,"v1":2650,"feasible":"False"},{"f1":3855,"v1":1600,"feasible":"False"},{"f1":3875,"v1":2850,"feasible":"False"},{"f1":3895,"v1":1800,"feasible":"False"},{"f1":3915,"v1":2400,"feasible":"False"},{"f1":3935,"v1":2050,"feasible":"False"},{"f1":3955,"v1":1600,"feasible":"False"},{"f1":3975,"v1":2800,"feasible":"False"},{"f1":3995,"v1":2200,"feasible":"False"},{"f1":4015,"v1":1750,"feasible":"False"},{"f1":4035,"v1":3000,"feasible":"False"},{"f1":4060,"v1":1950,"feasible":"False"},
      {"f1":4100,"v1":1700,"feasible":"False"},{"f1":4129,"v1":3769,"feasible":"False"},{"f1":4150,"v1":2400,"feasible":"False"},{"f1":4180,"v1":2950,"feasible":"False"},{"f1":4210,"v1":1900,"feasible":"False"},{"f1":4249,"v1":3579,"feasible":"False"},{"f1":4270,"v1":2250,"feasible":"False"},{"f1":4300,"v1":3300,"feasible":"False"},{"f1":4330,"v1":2700,"feasible":"False"},{"f1":4348,"v1":1872,"feasible":"False"},
      {"f1":4090,"v1":2750,"feasible":"False"},{"f1":4115,"v1":2050,"feasible":"False"},{"f1":4140,"v1":3100,"feasible":"False"},{"f1":4165,"v1":1800,"feasible":"False"},{"f1":4200,"v1":2600,"feasible":"False"},{"f1":4230,"v1":3250,"feasible":"False"},{"f1":4260,"v1":2000,"feasible":"False"},{"f1":4290,"v1":2800,"feasible":"False"},{"f1":4320,"v1":2400,"feasible":"False"},{"f1":4340,"v1":3050,"feasible":"False"},
      {"f1":4095,"v1":2300,"feasible":"False"},{"f1":4125,"v1":2600,"feasible":"False"},{"f1":4155,"v1":2150,"feasible":"False"},{"f1":4185,"v1":2450,"feasible":"False"},{"f1":4215,"v1":2850,"feasible":"False"},{"f1":4245,"v1":2350,"feasible":"False"},{"f1":4275,"v1":3000,"feasible":"False"},{"f1":4305,"v1":2100,"feasible":"False"},{"f1":4335,"v1":2250,"feasible":"False"},
      {"f1":4400,"v1":2900,"feasible":"False"},{"f1":4450,"v1":2350,"feasible":"False"},{"f1":4500,"v1":3450,"feasible":"False"},{"f1":4550,"v1":2600,"feasible":"False"},{"f1":4597,"v1":3579,"feasible":"False"},{"f1":4600,"v1":2150,"feasible":"False"},
      {"f1":4370,"v1":2500,"feasible":"False"},{"f1":4420,"v1":3150,"feasible":"False"},{"f1":4470,"v1":2800,"feasible":"False"},{"f1":4520,"v1":2250,"feasible":"False"},{"f1":4570,"v1":3000,"feasible":"False"},{"f1":4610,"v1":2450,"feasible":"False"},
      {"f1":4380,"v1":2750,"feasible":"False"},{"f1":4430,"v1":2600,"feasible":"False"},{"f1":4480,"v1":3100,"feasible":"False"},{"f1":4530,"v1":2900,"feasible":"False"},{"f1":4580,"v1":2400,"feasible":"False"},
      {"f1":4647,"v1":2573,"feasible":"False"},{"f1":4696,"v1":2078,"feasible":"False"},{"f1":4866,"v1":3769,"feasible":"False"},{"f1":4700,"v1":3200,"feasible":"False"},{"f1":4660,"v1":3350,"feasible":"False"},{"f1":4750,"v1":2650,"feasible":"False"},{"f1":4800,"v1":3000,"feasible":"False"},
      {"f1":4945,"v1":2573,"feasible":"False"},{"f1":4945,"v1":2985,"feasible":"False"},{"f1":5134,"v1":4222,"feasible":"False"},{"f1":5134,"v1":3934,"feasible":"False"},{"f1":5044,"v1":3769,"feasible":"False"},{"f1":5044,"v1":3439,"feasible":"False"},{"f1":5064,"v1":3315,"feasible":"False"},{"f1":4900,"v1":3450,"feasible":"False"}
    ]
  },
  "columns": 2,
  "spacing": {"row": 21, "column": 37},
  "bounds": "flush",
  "concat": [
    {
      "width": 192, "height": 203,
      "data": {"name": "hist_f1"},
      "mark": {"type": "bar", "fillOpacity": 0.5, "stroke": "black", "strokeWidth": 1},
      "encoding": {
        "x": {"field": "bin_start", "type": "quantitative", "scale": {"domain": [-279, 5443], "nice": false, "zero": false, "padding": 0}, "axis": {"values": [0, 2000, 4000], "labels": false, "title": null}},
        "x2": {"field": "bin_end"},
        "y": {"field": "height", "type": "quantitative", "scale": {"domain": [0, 1], "nice": false, "padding": 0}, "axis": {"values": [0, 0.2, 0.4, 0.6, 0.8, 1], "format": ".1f", "title": "f1"}},
        "y2": {"datum": 0},
        "fill": {"field": "feasible", "type": "nominal", "scale": {"domain": ["False", "True"], "range": ["#ff7f0e", "#1f77b4"]}, "legend": null}
      }
    },
    {
      "width": 192, "height": 203,
      "data": {"name": "annot"},
      "mark": {"type": "text", "fontSize": 13.9, "align": "center", "baseline": "alphabetic"},
      "encoding": {
        "x": {"field": "x", "type": "quantitative", "scale": {"domain": [0, 1], "nice": false}, "axis": null},
        "y": {"field": "y", "type": "quantitative", "scale": {"domain": [0, 1], "nice": false}, "axis": null},
        "text": {"field": "label"},
        "fill": {"field": "feasible", "type": "nominal", "scale": {"domain": ["False", "True"], "range": ["#ff7f0e", "#1f77b4"]}, "legend": null}
      }
    },
    {
      "width": 192, "height": 203,
      "layer": [
        {
          "data": {"name": "points"},
          "mark": {"type": "circle", "size": 55, "opacity": 0.55, "stroke": "white", "strokeWidth": 0.6},
          "encoding": {
            "x": {"field": "f1", "type": "quantitative", "scale": {"domain": [-279, 5443], "nice": false, "zero": false}, "axis": {"values": [0, 2000, 4000], "format": "d", "title": "f1"}},
            "y": {"field": "v1", "type": "quantitative", "scale": {"domain": [-569, 4453], "nice": false, "zero": false}, "axis": {"values": [0, 1000, 2000, 3000, 4000], "format": "d", "title": "v1"}},
            "fill": {"field": "feasible", "type": "nominal", "scale": {"domain": ["False", "True"], "range": ["#ff7f0e", "#1f77b4"]}, "legend": null}
          }
        },
        {
          "data": {"name": "reg"},
          "mark": {"type": "line", "strokeWidth": 2.5},
          "encoding": {
            "x": {"field": "f1", "type": "quantitative"},
            "y": {"field": "v1", "type": "quantitative"},
            "color": {"field": "feasible", "type": "nominal", "scale": {"domain": ["True", "False"], "range": ["#1f77b4", "#ff7f0e"]},
              "legend": {"title": "feasible", "orient": "none", "legendX": 426, "legendY": 204, "symbolType": "stroke", "symbolSize": 900, "symbolStrokeWidth": 2.1, "labelOffset": 9, "padding": 0, "rowPadding": -2, "titleAnchor": "middle", "titlePadding": -2}}
          }
        }
      ]
    },
    {
      "width": 192, "height": 203,
      "data": {"name": "hist_v1"},
      "layer": [
        {
          "mark": {"type": "point", "opacity": 0},
          "encoding": {
            "x": {"field": "bin_start", "type": "quantitative", "scale": {"domain": [-211, 4462], "nice": false, "zero": false, "padding": 0}, "axis": {"values": [0, 2000, 4000], "format": "d", "title": "v1"}},
            "y": {"field": "bin_start", "type": "quantitative", "scale": {"domain": [-569, 4453], "nice": false, "zero": false}, "axis": {"values": [0, 1000, 2000, 3000, 4000], "labels": false, "title": null, "orient": "left"}}
          }
        },
        {
          "mark": {"type": "bar", "fillOpacity": 0.5, "stroke": "black", "strokeWidth": 1},
          "encoding": {
            "x": {"field": "bin_start", "type": "quantitative"},
            "x2": {"field": "bin_end"},
            "y": {"field": "height", "type": "quantitative", "scale": {"domain": [0, 1], "nice": false, "padding": 0}, "axis": null},
            "y2": {"datum": 0},
            "fill": {"field": "feasible", "type": "nominal", "scale": {"domain": ["False", "True"], "range": ["#ff7f0e", "#1f77b4"]}, "legend": null}
          }
        }
      ],
      "resolve": {"scale": {"y": "independent"}}
    }
  ]
}
